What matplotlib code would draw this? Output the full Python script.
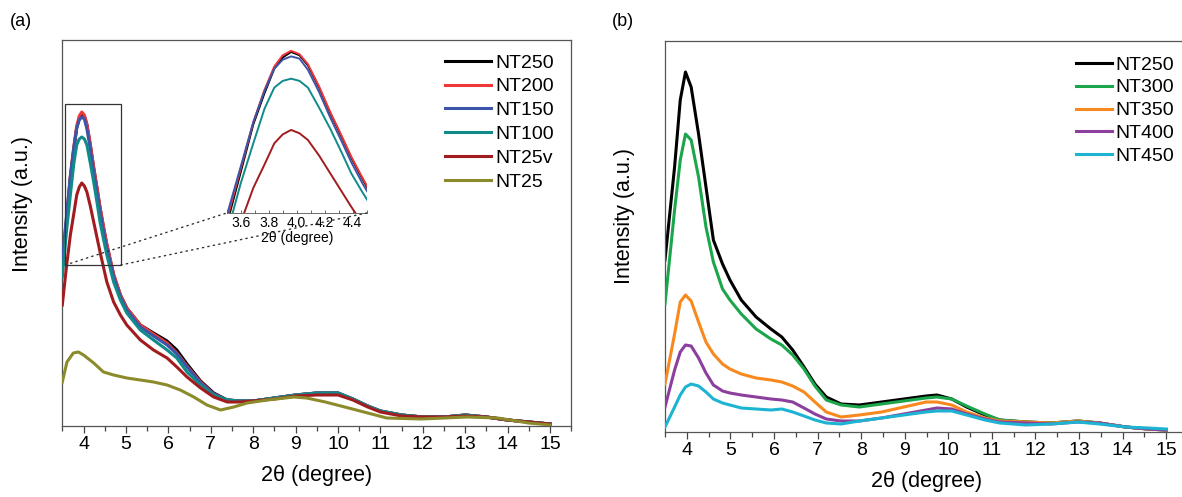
import numpy as np
import matplotlib
matplotlib.use("Agg")
import matplotlib.pyplot as plt
from matplotlib.ticker import MultipleLocator
from matplotlib.patches import Rectangle, ConnectionPatch

plt.rcParams['font.family'] = ['Liberation Sans', 'DejaVu Sans']

# panel (a) data, intensity in arbitrary units
xa = [3.5, 3.6, 3.69, 3.77, 3.84, 3.9, 3.96, 4.02, 4.08, 4.16, 4.24, 4.32, 4.39, 4.47, 4.55,
      4.71, 4.87, 5.02, 5.34, 5.65, 5.97, 6.2, 6.44, 6.76, 7.07, 7.39, 7.7, 8.0, 8.5, 9.0,
      9.5, 10.0, 10.35, 10.7, 11.0, 11.5, 12.0, 12.5, 13.0, 13.5, 14.0, 14.5, 15.0]
tail_a = [25, 25, 28, 31, 33, 33, 27, 20, 15, 11, 9, 9, 11, 9, 6, 4, 2]
nt250_a = [158, 205, 248, 276, 298, 308, 313, 310, 301, 281, 258, 237, 218, 199, 181,
           151, 131, 118, 101, 93, 85, 76, 62, 45, 33, 26] + tail_a
nt200_a = [162, 208, 250, 279, 300, 310, 314, 311, 302, 282, 259, 238, 219, 200, 182,
           152, 131, 118, 101, 92, 83, 73, 60, 44, 32, 26] + tail_a
nt150_a = [166, 210, 250, 278, 298, 306, 309, 307, 297, 277, 254, 233, 214, 195, 178,
           149, 129, 116, 99, 90, 81, 72, 59, 43, 32, 26] + tail_a
nt100_a = [149, 195, 231, 262, 281, 287, 289, 287, 281, 263, 244, 223, 204, 187, 171,
           144, 126, 113, 96, 86, 76, 68, 54, 41, 31, 26] + tail_a
nt25v_a = [121, 160, 191, 212, 231, 239, 243, 240, 234, 220, 204, 188, 174, 159, 144,
           124, 111, 101, 86, 76, 68, 59, 49, 38, 29, 24, 24, 25, 27, 30,
           31, 31, 26, 19, 14, 10, 9, 9, 10, 9, 6, 4, 2]
x25 = [3.5, 3.61, 3.76, 3.88, 4.0, 4.24, 4.47, 4.71, 5.02, 5.34, 5.65, 5.97, 6.28, 6.6, 6.91,
       7.23, 7.54, 7.86, 8.33, 8.96, 9.26, 9.7, 10.16, 10.7, 11.15, 11.96, 13.04, 13.77, 14.49, 15.0]
nt25_a = [44, 64, 73, 74, 71, 63, 54, 51, 48, 46, 44, 41, 36, 29, 21,
          16, 19, 23, 26, 29, 28, 24, 19, 13, 8, 7, 9, 8, 3, 1]

labels_a = ['NT250', 'NT200', 'NT150', 'NT100', 'NT25v', 'NT25']
colors_a = ['#000000', '#f0373a', '#3d55a8', '#118a8a', '#a21c1f', '#8b8b2b']

# panel (b) data
xb = [3.5, 3.72, 3.85, 3.97, 4.1, 4.27, 4.44, 4.61, 4.82, 4.99, 5.25, 5.59, 5.93, 6.18, 6.43,
      6.69, 6.94, 7.2, 7.54, 7.96, 8.47, 8.98, 9.49, 9.74, 10.08, 10.42, 10.84, 11.18, 11.78,
      12.37, 12.97, 13.47, 14.07, 14.58, 15.0]
tail_b = [10, 9, 11, 9, 5, 3, 2]
nt250_b = [172, 265, 332, 360, 345, 298, 245, 192, 168, 152, 132, 115, 103, 95, 82,
           65, 48, 35, 28, 27, 30, 33, 36, 37, 33, 25, 17, 12] + tail_b
nt300_b = [128, 222, 272, 298, 292, 255, 205, 170, 143, 132, 118, 103, 93, 87, 77,
           63, 46, 32, 27, 25, 28, 31, 34, 35, 33, 26, 18, 12] + tail_b
nt350_b = [48, 98, 130, 137, 131, 110, 90, 78, 68, 63, 58, 54, 52, 50, 46,
           40, 30, 20, 15, 17, 20, 25, 30, 30, 27, 20, 14, 11] + tail_b
nt400_b = [25, 62, 80, 87, 86, 74, 59, 47, 41, 39, 37, 35, 33, 32, 30,
           24, 18, 13, 11, 11, 14, 18, 22, 24, 23, 18, 13, 10, 9, 8, 10, 9, 5, 3, 2]
nt450_b = [5, 25, 37, 45, 48, 46, 40, 33, 29, 27, 24, 23, 22, 23, 20,
           16, 12, 9, 8, 11, 14, 17, 20, 21, 21, 17, 12, 9, 7, 8, 10, 8, 5, 4, 3]

labels_b = ['NT250', 'NT300', 'NT350', 'NT400', 'NT450']
colors_b = ['#000000', '#1ba64b', '#f7891f', '#8c3f9c', '#1cb4d2']

W, H = 1182, 497
fig = plt.figure(figsize=(W / 100, H / 100), dpi=100)


def style_axis(ax):
    ax.set_xlim(3.5, 15.5)
    ax.set_yticks([])
    ax.xaxis.set_major_locator(MultipleLocator(1))
    ax.xaxis.set_minor_locator(MultipleLocator(0.5))
    ax.tick_params(axis='x', which='major', direction='out', length=5, width=0.9,
                   pad=2, labelsize=14, color='#444444')
    ax.tick_params(axis='x', which='minor', direction='out', length=3.5, width=0.9,
                   color='#444444')
    for s in ax.spines.values():
        s.set_color('#555555')
        s.set_linewidth(0.9)
    ax.set_xlabel('2θ (degree)', fontsize=15.5, labelpad=9)
    ax.set_ylabel('Intensity (a.u.)', fontsize=15.5)


# (a)
axa = fig.add_axes([62.3 / W, (H - 426) / H, 509 / W, 386 / H])
series_a = [(xa, nt250_a), (xa, nt200_a), (xa, nt150_a), (xa, nt100_a), (xa, nt25v_a), (x25, nt25_a)]
for i, (xs, ys) in enumerate(series_a):
    axa.plot(xs, ys, color=colors_a[i], lw=2.2, label=labels_a[i], zorder=2 + i)
axa.set_ylim(0, 386)
style_axis(axa)
axa.yaxis.set_label_coords(-0.057, 0.575)
axa.legend(loc='upper left', bbox_to_anchor=(445 / W, 1 - 54 / H), bbox_transform=fig.transFigure,
           frameon=False, fontsize=14, handlelength=2.35, handletextpad=0.25,
           labelspacing=0.32, borderpad=0, borderaxespad=0)
fig.text(10 / W, 1 - 21 / H, '(a)', fontsize=13, va='center', ha='left')

# zoom box and inset
rect = Rectangle((3.57, 161), 4.88 - 3.57, 321.7 - 161, fill=False, ec='#333333', lw=0.9, zorder=10)
axa.add_patch(rect)

axi = fig.add_axes([226.7 / W, (H - 213) / H, 140 / W, 170 / H])
axi.patch.set_visible(False)
for i, (xs, ys) in enumerate(series_a[:5]):
    axi.plot(xs, ys, color=colors_a[i], lw=1.4, zorder=2 + i)
axi.set_xlim(3.5, 4.5)
axi.set_ylim(168.5, 321)
axi.set_yticks([])
axi.set_xticks([3.6, 3.8, 4.0, 4.2, 4.4])
axi.xaxis.set_minor_locator(MultipleLocator(0.1))
axi.tick_params(axis='x', which='both', direction='in', length=2.5, width=0.6,
                labelsize=10, pad=2, color='#555555')
for side in ['top', 'right', 'left']:
    axi.spines[side].set_visible(False)
axi.spines['bottom'].set_linewidth(0.6)
axi.spines['bottom'].set_color('#555555')
axi.set_xlabel('2θ (degree)', fontsize=10, labelpad=1)

for xy_a, xy_b in [((3.57, 161), (0, 0)), ((4.88, 161), (1, 0))]:
    con = ConnectionPatch(xyA=xy_a, coordsA=axa.transData, xyB=xy_b, coordsB=axi.transAxes,
                          linestyle=(0, (1, 3)), color='#333333', lw=1.0)
    fig.add_artist(con)

# (b)
axb = fig.add_axes([665 / W, (H - 432) / H, 523 / W, 391 / H])
series_b = [nt250_b, nt300_b, nt350_b, nt400_b, nt450_b]
for i, ys in enumerate(series_b):
    axb.plot(xb, ys, color=colors_b[i], lw=2.2, label=labels_b[i], zorder=2 + i)
axb.set_ylim(0, 391)
style_axis(axb)
axb.yaxis.set_label_coords(-0.057, 0.552)
axb.legend(loc='upper left', bbox_to_anchor=(1076 / W, 1 - 56 / H), bbox_transform=fig.transFigure,
           frameon=False, fontsize=14, handlelength=1.85, handletextpad=0.2,
           labelspacing=0.27, borderpad=0, borderaxespad=0)
fig.text(612 / W, 1 - 22 / H, '(b)', fontsize=13, va='center', ha='left')

fig.savefig('out.png', dpi=100)
